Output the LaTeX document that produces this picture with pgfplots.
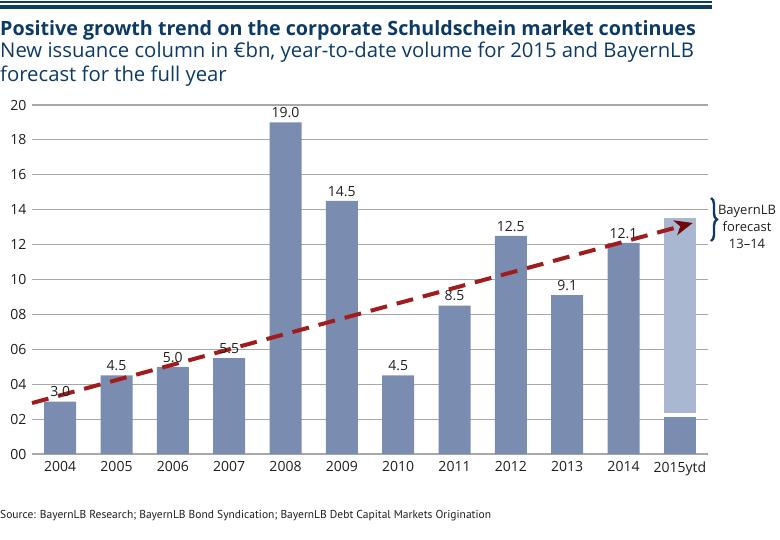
\documentclass[border=0pt]{standalone}
\usepackage{fontspec}
\setmainfont{Open Sans}
\newfontfamily\titlefont{Open Sans}
\newfontfamily\srcfont{PT Sans}
\usepackage{pgfplots}
\pgfplotsset{compat=1.18}
\usetikzlibrary{arrows.meta,decorations.pathreplacing}
\definecolor{navy}{HTML}{0D3B66}
\definecolor{bardark}{HTML}{7A8DB0}
\definecolor{barlight}{HTML}{AAB7D1}
\definecolor{trend}{HTML}{A11D1D}
\definecolor{trenddark}{HTML}{6E0A0A}
\definecolor{gridgrey}{HTML}{A8A8A8}
\definecolor{txt}{HTML}{1F1F1F}
\newcommand\tickfont{\fontsize{14}{16}\selectfont}
\begin{document}
\begin{tikzpicture}[x=1pt,y=1pt]
\path[use as bounding box] (0,0) rectangle (780,-539);
\fill[navy] (0,-0.5) rectangle (712,-2.5);
\fill[navy] (0,-5) rectangle (712,-9);
\node[anchor=base west, inner sep=0, text=navy, font=\titlefont\bfseries\fontsize{19.7}{24}\selectfont] at (0,-35) {Positive growth trend on the corporate Schuldschein market continues};
\node[anchor=base west, inner sep=0, text=navy, font=\titlefont\fontsize{20.3}{24}\selectfont] at (0,-57) {New issuance column in €bn, year-to-date volume for 2015 and BayernLB};
\node[anchor=base west, inner sep=0, text=navy, font=\titlefont\fontsize{20.3}{24}\selectfont] at (0,-81) {forecast for the full year};
\begin{axis}[at={(32pt,-454pt)}, anchor=south west, scale only axis,
  width=676pt, height=349pt,
  xmin=-0.5, xmax=11.5, ymin=0, ymax=20,
  ytick={0,2,...,20}, yticklabels={00,02,04,06,08,10,12,14,16,18,20},
  xtick={0,...,11}, xticklabels={2004,2005,2006,2007,2008,2009,2010,2011,2012,2013,2014,2015ytd},
  ymajorgrids, grid style={gridgrey, line width=1.1pt},
  axis line style={draw=none}, major tick length=0pt,
  xticklabel style={font=\tickfont, text=txt, yshift=-4pt},
  yticklabel style={font=\tickfont, text=txt, xshift=-2pt},
  /pgf/number format/assume math mode=true,
  clip=false]
\addplot[ybar, bar width=32pt, bar shift=0pt, fill=barlight, draw=none] coordinates {(11,13.5)};
\addplot[ybar, bar width=32pt, bar shift=0pt, fill=white, draw=none] coordinates {(11,2.35)};
\addplot[ybar, bar width=32pt, bar shift=0pt, fill=bardark, draw=none,
  nodes near coords, every node near coord/.append style={font=\tickfont, text=txt, yshift=1pt},
  nodes near coords style={/pgf/number format/.cd, fixed, fixed zerofill, precision=1, assume math mode=true}]
  coordinates {(0,3.0) (1,4.5) (2,5.0) (3,5.5) (4,19.0) (5,14.5) (6,4.5) (7,8.5) (8,12.5) (9,9.1) (10,12.1)};
\addplot[ybar, bar width=32pt, bar shift=0pt, fill=bardark, draw=none] coordinates {(11,2.1)};
\addplot[trend, line width=4pt, dash pattern=on 17pt off 10pt, -{Stealth[length=18pt,width=15pt,inset=5pt,color=trenddark]}] coordinates {(-0.5,2.92) (11.23,13.24)};
\end{axis}
\draw[navy, line width=2.4pt, decorate, decoration={brace, amplitude=6pt}] (711,-198) -- (711,-241);
\node[align=center, inner sep=0, text=txt, font=\fontsize{13}{17}\selectfont, anchor=north] at (747,-205) {BayernLB\\forecast\\13–14};
\node[anchor=base west, inner sep=0, text=txt, font=\srcfont\fontsize{11.5}{14}\selectfont] at (0,-518) {Source: BayernLB Research; BayernLB Bond Syndication; BayernLB Debt Capital Markets Origination};
\end{tikzpicture}
\end{document}
